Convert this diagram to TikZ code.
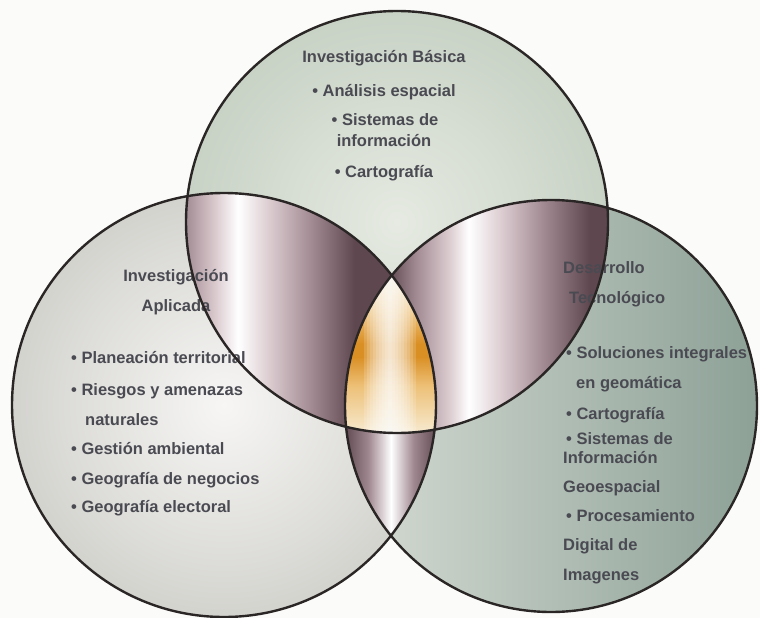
\documentclass[tikz,border=0pt]{standalone}
\usepackage{fontspec}
\setmainfont{Liberation Sans}
\usepackage{tikz}
\definecolor{ringc}{HTML}{2B2626}
\definecolor{txtc}{HTML}{4A4A52}
\definecolor{bgc}{HTML}{FBFBFA}
\definecolor{topin}{HTML}{E6EAE2}
\definecolor{topout}{HTML}{C8D2C5}
\definecolor{leftin}{HTML}{F7F6F5}
\definecolor{leftout}{HTML}{D3D3CE}
\definecolor{rightl}{HTML}{D6DCD4}
\definecolor{rightd}{HTML}{8DA197}
\definecolor{metD}{HTML}{5E474F}
\definecolor{metM}{HTML}{A08890}
\definecolor{metL}{HTML}{DECFD3}
\definecolor{goldD}{HTML}{DA8F24}
\definecolor{goldM}{HTML}{EDC077}
\definecolor{goldP}{HTML}{F7EBD2}
\pgfdeclarehorizontalshading{metalL}{100bp}{color(0bp)=(metM); color(25bp)=(metM); color(33bp)=(metL); color(38bp)=(white); color(45bp)=(metL); color(56bp)=(metM); color(66bp)=(metD); color(75bp)=(metD); color(100bp)=(metD)}
\pgfdeclarehorizontalshading{metalR}{100bp}{color(0bp)=(metD); color(25bp)=(metD); color(31bp)=(metM); color(39bp)=(metL); color(43bp)=(white); color(50bp)=(metL); color(60bp)=(metM); color(70bp)=(metD); color(75bp)=(metD); color(100bp)=(metD)}
\pgfdeclarehorizontalshading{metalB}{100bp}{color(0bp)=(metD); color(25bp)=(metD); color(38bp)=(metM); color(50bp)=(white); color(62bp)=(metM); color(75bp)=(metD); color(100bp)=(metD)}
\pgfdeclareverticalshading{goldV}{100bp}{color(0bp)=(goldP); color(25bp)=(goldP); color(40bp)=(goldM); color(49bp)=(goldD); color(53bp)=(goldD); color(63bp)=(goldM); color(75bp)=(goldP); color(100bp)=(goldP)}
\tikzset{
  vring/.style={draw=ringc,line width=2.4pt},
  vtitle/.style={font=\fontsize{16.5}{19}\selectfont\bfseries,text=txtc,inner sep=0pt,anchor=base},
  vitem/.style={vtitle,anchor=base west}
}
\def\rT{211}
\def\rL{212}
\def\rR{206}

\begin{document}
\begin{tikzpicture}[x=1pt,y=-1pt]
\fill[bgc] (0,0) rectangle (760,618);
\useasboundingbox (0,0) rectangle (760,618);
\coordinate (T) at (397,222);
\coordinate (L) at (224,405);
\coordinate (R) at (551,406);

\shade[inner color=topin,outer color=topout] (T) circle [radius=\rT];
\shade[inner color=leftin,outer color=leftout] (L) circle [radius=\rL];
\shade[left color=rightl,right color=rightd] (R) circle [radius=\rR];

\begin{scope}
\clip (T) circle [radius=\rT];
\clip (L) circle [radius=\rL];
\shade[shading=metalL] (184,190) rectangle (392,436);
\end{scope}
\begin{scope}
\clip (T) circle [radius=\rT];
\clip (R) circle [radius=\rR];
\shade[shading=metalR] (388,190) rectangle (612,436);
\end{scope}
\begin{scope}
\clip (L) circle [radius=\rL];
\clip (R) circle [radius=\rR];
\shade[shading=metalB] (344,270) rectangle (438,542);
\end{scope}
\begin{scope}
\clip (T) circle [radius=\rT];
\clip (L) circle [radius=\rL];
\clip (R) circle [radius=\rR];
\shade[shading=goldV] (344,273) rectangle (438,434);
\foreach \w in {26,23,...,2}
  \fill[white,opacity=0.16] (390-\w,273) rectangle (390+\w,434);
\end{scope}

\node[vtitle] (tb0) at (384,63) {Investigación Básica};
\node[vtitle] (tb1) at (384,96) {\textbullet\ Análisis espacial};
\node[vtitle] (tb2) at (385,125) {\textbullet\ Sistemas de};
\node[vtitle] (tb3) at (384,146) {información};
\node[vtitle] (tb4) at (384,177) {\textbullet\ Cartografía};

\node[vtitle] (la0) at (176,281) {Investigación};
\node[vtitle] (la1) at (176,311) {Aplicada};
\node[vitem] (la2) at (71,363) {\textbullet\ Planeación territorial};
\node[vitem] (la3) at (71,395) {\textbullet\ Riesgos y amenazas};
\node[vitem] (la4) at (85,425) {naturales};
\node[vitem] (la5) at (71,454) {\textbullet\ Gestión ambiental};
\node[vitem] (la6) at (71,484) {\textbullet\ Geografía de negocios};
\node[vitem] (la7) at (71,512) {\textbullet\ Geografía electoral};

\node[vitem] (dt0) at (563,273) {Desarrollo};
\node[vitem] (dt1) at (569,303) {Tecnológico};
\node[vitem] (dt2) at (566,358) {\textbullet\ Soluciones integrales};
\node[vitem] (dt3) at (576,388) {en geomática};
\node[vitem] (dt4) at (566,419) {\textbullet\ Cartografía};
\node[vitem] (dt5) at (566,444) {\textbullet\ Sistemas de};
\node[vitem] (dt6) at (563,463) {Información};
\node[vitem] (dt7) at (563,492) {Geoespacial};
\node[vitem] (dt8) at (566,521) {\textbullet\ Procesamiento};
\node[vitem] (dt9) at (563,550) {Digital de};
\node[vitem] (dt10) at (563,580) {Imagenes};

\draw[vring] (T) circle [radius=\rT];
\draw[vring] (L) circle [radius=\rL];
\draw[vring] (R) circle [radius=\rR];
\end{tikzpicture}
\end{document}
